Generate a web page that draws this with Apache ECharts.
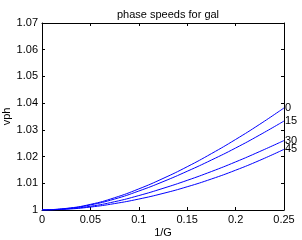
<!DOCTYPE html>
<html><head><meta charset="utf-8">
<script src="https://cdn.jsdelivr.net/npm/echarts@6/dist/echarts.min.js"></script>
<style>html,body{margin:0;padding:0;background:#fff}#c{width:302px;height:240px}</style>
</head><body><div id="c"></div>
<script>
var xs = [0, 0.025, 0.05, 0.075, 0.1, 0.125, 0.15, 0.175, 0.2, 0.225, 0.25];
var s0  = [1, 1.0006, 1.0021, 1.0046, 1.0079, 1.0118, 1.0162, 1.0211, 1.0264, 1.0321, 1.0382];
var s15 = [1, 1.0005, 1.0019, 1.0041, 1.0071, 1.0106, 1.0145, 1.0187, 1.0232, 1.0281, 1.0333];
var s30 = [1, 1.0004, 1.0014, 1.0031, 1.0054, 1.0081, 1.0111, 1.0144, 1.0180, 1.0219, 1.0260];
var s45 = [1, 1.0003, 1.0011, 1.0024, 1.0041, 1.0062, 1.0087, 1.0116, 1.0149, 1.0186, 1.0227];
var names = ['0', '15', '30', '45'];
var seriesVals = [s0, s15, s30, s45];
var font = 'Liberation Sans, Arial, sans-serif';
var fs = 11;
var chart = echarts.init(document.getElementById('c'), null, {renderer: 'canvas'});
function ax(pos, show) {
  return {
    type: 'value', position: pos, min: 0, max: 0.25, interval: 0.05,
    axisLine: {show: true, onZero: false, lineStyle: {color: '#000', width: 1}},
    axisTick: {show: true, inside: true, length: 3, lineStyle: {color: '#000'}},
    axisLabel: {show: show, color: '#000', fontSize: fs, fontFamily: font, margin: 4},
    splitLine: {show: false}
  };
}
function ay(pos, show) {
  return {
    type: 'value', position: pos, min: 1, max: 1.07, interval: 0.01,
    axisLine: {show: true, onZero: false, lineStyle: {color: '#000', width: 1}},
    axisTick: {show: true, inside: true, length: 3, lineStyle: {color: '#000'}},
    axisLabel: {show: show, color: '#000', fontSize: fs, fontFamily: font, margin: 4},
    splitLine: {show: false}
  };
}
var xa = ax('bottom', true); xa.name = '1/G'; xa.nameLocation = 'middle'; xa.nameGap = 17;
xa.nameMoveOverlap = false;
xa.nameTextStyle = {color: '#000', fontSize: fs, fontFamily: font};
var ya = ay('left', true); ya.name = 'vph'; ya.nameLocation = 'middle'; ya.nameGap = 30;
ya.nameMoveOverlap = false;
ya.nameTextStyle = {color: '#000', fontSize: fs, fontFamily: font};
var series = names.map(function (n, i) {
  return {
    type: 'line', name: n, showSymbol: false, smooth: true,
    data: xs.map(function (x, j) { return [x, seriesVals[i][j]]; }),
    lineStyle: {color: '#0000ff', width: 1},
    endLabel: {show: true, formatter: n, color: '#000', fontSize: fs, fontFamily: font, distance: 1},
    animation: false
  };
});
chart.setOption({
  animation: false,
  title: {text: 'phase speeds for gal', left: 163, top: 4, textAlign: 'center',
    textStyle: {fontSize: fs, fontWeight: 'normal', color: '#000', fontFamily: font}},
  grid: {left: 42, right: 18, top: 23, bottom: 30, containLabel: false, outerBoundsMode: 'none'},
  xAxis: [xa, ax('top', false)],
  yAxis: [ya, ay('right', false)],
  series: series
});
</script></body></html>
